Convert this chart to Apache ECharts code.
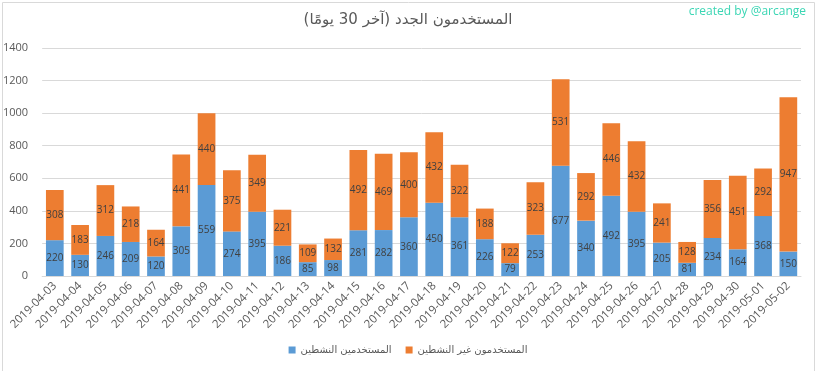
<!DOCTYPE html>
<html><head><meta charset="utf-8">
<script src="https://cdn.jsdelivr.net/npm/echarts@6/dist/echarts.min.js"></script>
<style>html,body{margin:0;padding:0;background:#fff}#c{width:816px;height:371px}</style>
</head><body><div id="c"></div>
<script>
const categories = ["2019-04-03","2019-04-04","2019-04-05","2019-04-06","2019-04-07","2019-04-08","2019-04-09","2019-04-10","2019-04-11","2019-04-12","2019-04-13","2019-04-14","2019-04-15","2019-04-16","2019-04-17","2019-04-18","2019-04-19","2019-04-20","2019-04-21","2019-04-22","2019-04-23","2019-04-24","2019-04-25","2019-04-26","2019-04-27","2019-04-28","2019-04-29","2019-04-30","2019-05-01","2019-05-02"];
const activeUsers = [220,130,246,209,120,305,559,274,395,186,85,98,281,282,360,450,361,226,79,253,677,340,492,395,205,81,234,164,368,150];
const inactiveUsers = [308,183,312,218,164,441,440,375,349,221,109,132,492,469,400,432,322,188,122,323,531,292,446,432,241,128,356,451,292,947];
const titleText = "المستخدمون الجدد (آخر 30 يومًا)";
const activeName = "المستخدمين النشطين";
const inactiveName = "المستخدمون غير النشطين";
const creditText = "created by @arcange";

const font = "'Open Sans', 'DejaVu Sans', sans-serif";
const chart = echarts.init(document.getElementById('c'), null, {renderer:'canvas'});
const lbl = {show:true, position:'inside', color:'#404040', fontSize:10, fontFamily:font};
chart.setOption({
  animation:false,
  title:{text:titleText, left:'center', top:8, textStyle:{color:'#595959', fontSize:15, fontWeight:'normal', fontFamily:"'DejaVu Sans', sans-serif"}},
  graphic:[
    {type:'text', right:10, top:6, style:{text:creditText, fill:'#3BD6B4', fontSize:12, fontFamily:font}},
    {type:'rect', left:0, top:0, shape:{x:0.5,y:0.5,width:812,height:369}, style:{fill:'none', stroke:'#D9D9D9', lineWidth:1}}
  ],
  legend:{bottom:11, left:'center', itemWidth:7, itemHeight:7, itemGap:14, icon:'rect',
    textStyle:{color:'#595959', fontSize:10, fontFamily:"'DejaVu Sans', sans-serif"},
    data:[activeName, inactiveName]},
  grid:{left:42, right:15, top:48, bottom:95},
  xAxis:{type:'category', data:categories,
    axisLine:{lineStyle:{color:'#D9D9D9'}}, axisTick:{show:false},
    axisLabel:{rotate:45, color:'#595959', fontSize:11.5, fontFamily:font, interval:0, margin:8}},
  yAxis:{type:'value', min:0, max:1400, interval:200,
    axisLine:{show:false}, axisTick:{show:false},
    splitLine:{lineStyle:{color:'#D9D9D9'}},
    axisLabel:{color:'#595959', fontSize:11, fontFamily:font, margin:14, formatter:v=>String(v)}},
  series:[
    {name:activeName, type:'bar', stack:'s', data:activeUsers, barWidth:'70%', itemStyle:{color:'#5B9BD5'}, label:lbl},
    {name:inactiveName, type:'bar', stack:'s', data:inactiveUsers, barWidth:'70%', itemStyle:{color:'#ED7D31'}, label:lbl}
  ]
});
</script></body></html>
